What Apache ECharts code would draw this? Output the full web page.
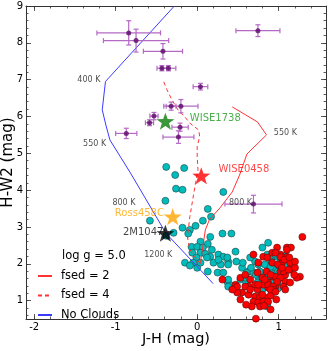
<!DOCTYPE html>
<html>
<head>
<meta charset="utf-8">
<script src="https://cdn.jsdelivr.net/npm/echarts@6/dist/echarts.min.js"></script>
<style>
html, body { margin: 0; padding: 0; background: #fff; }
#chart { width: 334px; height: 351px; }
</style>
</head>
<body>
<div id="chart"></div>
<script>
// tick positions
const xMajorTicks = [-2, -1, 0, 1]
const xMinorTicks = [-2.0, -1.8, -1.6, -1.4, -1.2, -1.0, -0.8, -0.6, -0.4, -0.2, 0, 0.2, 0.4, 0.6, 0.8, 1.0, 1.2, 1.4]
const yMajorTicks = [1, 2, 3, 4, 5, 6, 7, 8, 9]
const yMinorTicks = [0.6, 0.8, 1.0, 1.2, 1.4, 1.6, 1.8, 2.0, 2.2, 2.4, 2.6, 2.8, 3.0, 3.2, 3.4, 3.6, 3.8, 4.0,
  4.2, 4.4, 4.6, 4.8, 5.0, 5.2, 5.4, 5.6, 5.8, 6.0, 6.2, 6.4, 6.6, 6.8, 7.0, 7.2, 7.4, 7.6, 7.8, 8.0, 8.2, 8.4,
  8.6, 8.8, 9.0]

// model tracks [J-H, H-W2]
const fsed2Track = [[0.43, 6.26], [0.74, 5.85], [0.85, 5.50], [0.61, 4.98], [0.55, 4.60], [0.52, 4.41], [0.43, 3.95],
  [0.28, 3.52], [0.15, 3.2], [0.10, 2.92], [0.06, 2.33], [0.04, 2.03]]
const fsed4Track = [[-0.41, 6.94], [-0.37, 6.72], [-0.31, 6.45], [-0.22, 6.12], [-0.17, 6.04], [-0.09, 5.82],
  [0.02, 5.63], [0.03, 5.45], [0.0, 5.18], [0.0, 4.90], [0.01, 4.55], [-0.02, 4.20], [-0.09, 3.28], [-0.12, 2.73],
  [-0.09, 2.38], [0.0, 2.1], [0.06, 1.95]]
const noCloudTrack = [[-0.28, 9.0], [-1.125, 6.95], [-1.165, 6.18], [-1.117, 5.74], [-1.07, 5.36], [-0.82, 4.47],
  [-0.384, 2.83], [0.196, 1.46]]

// field T dwarfs (cyan) and L dwarfs (red)
const tDwarfs = [[-0.38, 4.63], [-0.27, 4.41], [-0.16, 4.60], [-0.26, 4.04], [-0.18, 4.01], [-0.39, 3.71], [-0.58, 3.17],
  [-0.38, 2.76], [0.32, 3.95], [0.13, 3.49], [0.17, 3.28], [0.07, 3.17], [-0.02, 3.03], [-0.09, 2.92], [-0.18, 2.98],
  [-0.11, 2.82], [0.31, 2.82], [0.42, 2.82], [0.16, 2.73], [0.04, 2.60], [-0.29, 2.84], [0.13, 2.54], [-0.07, 2.46],
  [0.0, 2.46], [0.07, 2.44], [0.18, 2.38], [-0.06, 2.30], [0.04, 2.30], [0.10, 2.27], [0.26, 2.25], [0.32, 2.19],
  [-0.01, 2.17], [0.16, 2.19], [-0.15, 2.03], [-0.05, 2.03], [0.20, 2.03], [0.38, 2.06], [0.0, 1.89], [0.13, 1.79],
  [0.25, 1.76], [0.32, 1.76], [0.55, 1.89], [0.63, 1.79], [0.37, 1.51], [0.53, 1.57], [0.60, 1.49], [0.40, 1.43],
  [0.04, 2.03], [-0.09, 1.95], [0.29, 1.98], [0.26, 2.11], [0.12, 2.17], [0.87, 2.57], [0.56, 2.03], [0.71, 2.06],
  [0.75, 1.98], [0.83, 1.98], [0.92, 1.98], [1.02, 2.03], [0.86, 2.25], [0.92, 2.19], [0.61, 1.76], [0.69, 1.76],
  [0.77, 1.79], [0.86, 1.79], [0.93, 1.79], [0.75, 1.65], [0.83, 1.65], [0.74, 1.49], [0.81, 1.51], [0.92, 1.57],
  [0.80, 1.30], [0.86, 0.84], [0.37, 2.17], [0.38, 1.98], [0.66, 1.89], [0.72, 1.70], [0.98, 2.19], [0.96, 1.89],
  [0.99, 1.79], [0.59, 1.62], [0.38, 1.57], [0.38, 1.38], [0.93, 1.49], [0.99, 1.43], [0.91, 2.06], [1.10, 1.98],
  [0.90, 1.92], [0.87, 1.65], [0.99, 1.33], [0.96, 2.25], [0.48, 2.06], [0.47, 2.33], [0.65, 2.17], [0.80, 2.44],
  [1.08, 2.22]]
const lDwarfs = [[1.29, 2.73], [0.98, 2.44], [1.10, 2.44], [1.15, 2.44], [0.92, 2.30], [1.10, 2.19], [1.02, 2.25],
  [0.92, 2.03], [1.04, 2.03], [1.14, 1.84], [1.26, 1.65], [1.22, 1.62], [1.08, 1.70], [1.02, 1.79], [0.99, 1.57],
  [1.08, 1.51], [0.93, 1.65], [0.87, 1.49], [0.96, 1.38], [0.87, 1.35], [0.83, 1.03], [0.86, 0.97], [1.10, 2.38],
  [1.02, 2.19], [0.69, 2.25], [0.81, 2.19], [0.86, 2.17], [0.96, 2.30], [0.75, 2.03], [1.06, 1.79], [0.74, 1.76],
  [0.81, 1.43], [0.87, 1.43], [0.63, 1.38], [0.71, 1.43], [0.96, 1.65], [1.02, 1.62], [1.06, 1.38], [1.14, 2.03],
  [1.12, 1.84], [0.98, 1.51], [0.93, 1.38], [0.55, 1.22], [0.63, 1.16], [0.71, 1.11], [0.77, 1.11], [0.83, 1.08],
  [0.69, 0.97], [0.75, 0.95], [0.81, 0.97], [0.67, 0.84], [0.77, 0.84], [0.87, 0.97], [0.92, 1.22], [0.93, 1.30],
  [0.59, 1.38], [0.65, 1.30], [0.74, 1.30], [0.72, 0.51], [0.53, 1.62], [0.59, 1.70], [0.47, 1.43], [0.49, 1.22],
  [1.19, 1.70], [0.31, 1.57], [0.49, 1.38], [0.82, 0.86], [0.90, 1.14], [0.80, 1.62], [0.85, 1.79], [0.99, 1.98],
  [1.07, 2.11], [0.90, 0.76], [0.97, 1.03], [0.53, 1.03], [0.43, 1.30], [0.60, 0.89], [1.08, 1.30], [1.20, 1.89],
  [1.13, 2.17], [0.90, 1.30], [0.80, 1.16], [0.96, 1.24], [0.75, 1.43], [0.65, 1.57], [0.83, 1.57], [1.14, 1.49],
  [1.04, 1.89], [1.20, 2.06], [0.90, 1.70]]

// Y dwarfs with errors
const yDwarfJH = [-0.84, -0.75, -0.42, -0.433, -0.352, -0.53, -0.585, -0.87, 0.745, 0.04, -0.32, -0.20, -0.21, -0.23, 0.69]
const yDwarfHW2 = [8.27, 8.06, 7.77, 7.31, 7.31, 6.01, 5.83, 5.54, 8.33, 6.81, 6.28, 6.28, 5.71, 5.44, 3.62]
const yDwarfJHErr = [0.39, 0.40, 0.24, 0.06, 0.09, 0.05, 0.05, 0.13, 0.27, 0.09, 0.06, 0.21, 0.10, 0.19, 0.35]
const yDwarfHW2Err = [0.33, 0.31, 0.21, 0.07, 0.07, 0.1, 0.08, 0.14, 0.16, 0.09, 0.11, 0.18, 0.11, 0.17, 0.24]

// named objects
const starNames = ['WISE1738', 'WISE0458', 'Ross458C', '2M1047']
const starJH = [-0.39, 0.05, -0.30, -0.39]
const starHW2 = [5.87, 4.39, 3.28, 2.83]
const starColors = ['#0b7d0b', '#ff0000', '#ffa500', '#000000']
const starLabelJH = [-0.09, 0.26, -1.01, -0.91]
const starLabelHW2 = [5.96, 4.55, 3.36, 2.84]
const starLabelColors = ['#1e9a1e', '#ff1a1a', '#ffa500', '#111111']

// temperature annotations
const tempText = ['400 K', '550 K', '800 K', '1200 K', '550 K', '800 K']
const tempJH = [-1.47, -1.40, -1.04, -0.65, 0.94, 0.39]
const tempHW2 = [6.99, 5.25, 3.66, 2.25, 5.55, 3.66]

const starPath = 'path://M0,-10L2.35,-3.24L9.51,-3.09L3.8,1.24L5.88,8.09L0,4L-5.88,8.09L-3.8,1.24L-9.51,-3.09L-2.35,-3.24Z'
const errColor = '#b469c4'

const chart = echarts.init(document.getElementById('chart'), null, { renderer: 'canvas' })

function tickAxis(pos, ticks, len, showLine, showLabel, isX) {
  const ax = {
    type: 'value',
    position: pos,
    min: isX ? -2.1 : 0.5,
    max: isX ? 1.58 : 9,
    splitLine: { show: false },
    axisLine: { show: showLine, onZero: false, lineStyle: { color: '#333', width: 1 } },
    axisTick: { show: true, inside: true, length: len, customValues: ticks, lineStyle: { color: '#333', width: 0.8 } },
    axisLabel: { show: showLabel, customValues: ticks, color: '#000', fontSize: 10, margin: 3, fontFamily: 'DejaVu Sans' }
  }
  return ax
}

const xAxes = [
  tickAxis('bottom', xMajorTicks, 5, true, true, true),
  tickAxis('bottom', xMinorTicks, 2.5, false, false, true),
  tickAxis('top', xMajorTicks, 5, true, false, true),
  tickAxis('top', xMinorTicks, 2.5, false, false, true)
]
Object.assign(xAxes[0], {
  name: 'J-H (mag)', nameLocation: 'middle', nameGap: 13, nameMoveOverlap: false,
  nameTextStyle: { fontSize: 14.5, color: '#000', fontFamily: 'DejaVu Sans', verticalAlign: 'top' }
})
const yAxes = [
  tickAxis('left', yMajorTicks, 5, true, true, false),
  tickAxis('left', yMinorTicks, 2.5, false, false, false),
  tickAxis('right', yMajorTicks, 5, true, false, false),
  tickAxis('right', yMinorTicks, 2.5, false, false, false)
]
Object.assign(yAxes[0], {
  name: 'H-W2 (mag)', nameLocation: 'middle', nameGap: 10, nameRotate: 90, nameMoveOverlap: false,
  nameTextStyle: { fontSize: 15, color: '#000', fontFamily: 'DejaVu Sans', verticalAlign: 'bottom' }
})

const errData = yDwarfJH.map((v, i) => [v, yDwarfHW2[i], yDwarfJHErr[i], yDwarfHW2Err[i]])

function renderErr(params, api) {
  const x = api.value(0)
  const y = api.value(1)
  const xe = api.value(2)
  const ye = api.value(3)
  const l = api.coord([x - xe, y])
  const r = api.coord([x + xe, y])
  const t = api.coord([x, y + ye])
  const b = api.coord([x, y - ye])
  const cap = 2.5
  const style = { stroke: errColor, lineWidth: 1.2, fill: null }
  const seg = (x1, y1, x2, y2) => ({ type: 'line', shape: { x1, y1, x2, y2 }, style })
  return {
    type: 'group',
    children: [
      seg(l[0], l[1], r[0], r[1]),
      seg(t[0], t[1], b[0], b[1]),
      seg(l[0], l[1] - cap, l[0], l[1] + cap),
      seg(r[0], r[1] - cap, r[0], r[1] + cap),
      seg(t[0] - cap, t[1], t[0] + cap, t[1]),
      seg(b[0] - cap, b[1], b[0] + cap, b[1])
    ]
  }
}

const option = {
  animation: false,
  backgroundColor: '#fff',
  textStyle: { fontFamily: 'DejaVu Sans' },
  grid: { left: 26, right: 8, top: 6, bottom: 32, containLabel: false, outerBoundsMode: 'none' },
  xAxis: xAxes,
  yAxis: yAxes,
  title: {
    text: 'log g = 5.0', left: 62, top: 250, padding: 0,
    textStyle: { fontSize: 11.5, fontWeight: 'normal', color: '#000', fontFamily: 'DejaVu Sans' }
  },
  legend: {
    data: ['fsed = 2', 'fsed = 4', 'No Clouds'],
    orient: 'vertical', left: 37, top: 270, padding: 0,
    itemWidth: 14, itemHeight: 8, itemGap: 7.5,
    itemStyle: { opacity: 0 },
    textStyle: { fontSize: 11.5, color: '#000', fontFamily: 'DejaVu Sans', padding: [0, 0, 0, 4] }
  },
  series: [
    {
      name: 'T', type: 'scatter', data: tDwarfs, symbolSize: 7, z: 2,
      itemStyle: { color: '#00bdbd', borderColor: '#224444', borderWidth: 0.6, opacity: 1 }
    },
    {
      name: 'L', type: 'scatter', data: lDwarfs, symbolSize: 7, z: 3,
      itemStyle: { color: '#ff0000', borderColor: '#551111', borderWidth: 0.6, opacity: 1 }
    },
    {
      name: 'fsed = 2', type: 'line', data: fsed2Track, symbol: 'none', z: 4,
      lineStyle: { color: '#ff3333', width: 1 }, itemStyle: { color: '#ff3333' }
    },
    {
      name: 'fsed = 4', type: 'line', data: fsed4Track, symbol: 'none', z: 4,
      lineStyle: { color: '#ff3333', width: 1, type: [4, 3] }, itemStyle: { color: '#ff3333' }
    },
    {
      name: 'No Clouds', type: 'line', data: noCloudTrack, symbol: 'none', z: 4,
      lineStyle: { color: '#3b3bff', width: 1 }, itemStyle: { color: '#3b3bff' }
    },
    {
      type: 'custom', data: errData, renderItem: renderErr, z: 5, silent: true
    },
    {
      type: 'scatter', data: errData.map(d => [d[0], d[1]]), symbolSize: 5, z: 6,
      itemStyle: { color: '#5a0a66' }
    },
    {
      type: 'scatter', z: 7, symbol: starPath, symbolSize: 18, symbolKeepAspect: true,
      data: starNames.map((n, i) => ({ value: [starJH[i], starHW2[i]], itemStyle: { color: starColors[i] } }))
    },
    {
      type: 'scatter', z: 8, symbolSize: 0, silent: true,
      data: starNames.map((n, i) => ({
        value: [starLabelJH[i], starLabelHW2[i]], name: n,
        label: { color: starLabelColors[i] }
      })),
      label: {
        show: true, position: [0, 0], align: 'left', verticalAlign: 'middle',
        fontSize: 10, formatter: p => p.name, fontFamily: 'DejaVu Sans'
      }
    },
    {
      type: 'scatter', z: 8, symbolSize: 0, silent: true,
      data: tempText.map((t, i) => ({ value: [tempJH[i], tempHW2[i]], name: t })),
      label: {
        show: true, position: [0, 0], align: 'left', verticalAlign: 'middle',
        fontSize: 8, color: '#222', formatter: p => p.name, fontFamily: 'DejaVu Sans'
      }
    }
  ]
}
chart.setOption(option)
</script>
</body>
</html>
